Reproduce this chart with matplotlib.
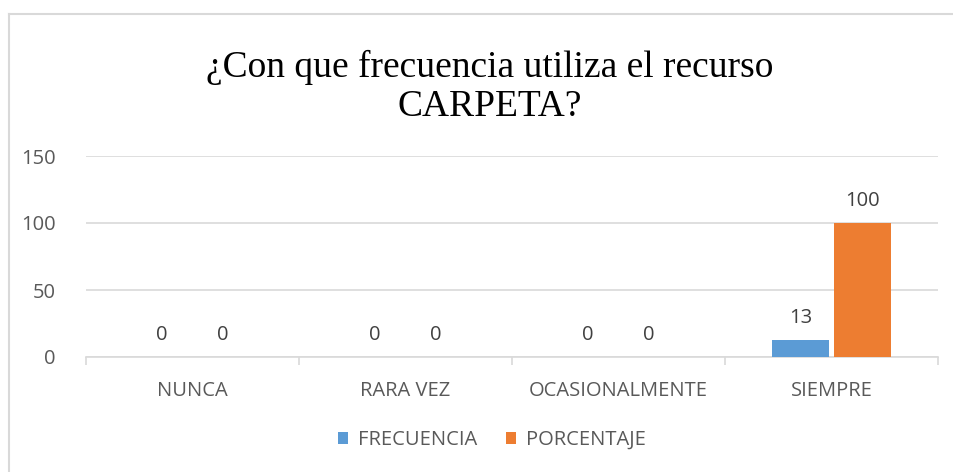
import matplotlib
matplotlib.use("Agg")
import matplotlib.pyplot as plt
import numpy as np

categories = ["NUNCA", "RARA VEZ", "OCASIONALMENTE", "SIEMPRE"]
frecuencia = [0, 0, 0, 13]
porcentaje = [0, 0, 0, 100]
series_names = ["FRECUENCIA", "PORCENTAJE"]
title = "¿Con que frecuencia utiliza el recurso\nCARPETA?"

BLUE = "#5B9BD5"
ORANGE = "#ED7D31"
GRID = "#D9D9D9"
TEXT = "#595959"
LABEL = "#404040"
FONT = "Open Sans"
FS = 14.5

W, H = 954, 472
fig = plt.figure(figsize=(W / 100, H / 100), dpi=100)
fig.patch.set_facecolor("white")

# chart frame (only top and left edges visible in the reference)
fig.add_artist(plt.Line2D([9 / W, 9 / W], [0, 1 - 14 / H], transform=fig.transFigure,
                          color="#D9D9D9", lw=1.5))
fig.add_artist(plt.Line2D([9 / W, 1], [1 - 14 / H, 1 - 14 / H], transform=fig.transFigure,
                          color="#D9D9D9", lw=1.5))

left, right = 86, 938
top, bottom = 156, 357
ax = fig.add_axes([left / W, 1 - bottom / H, (right - left) / W, (bottom - top) / H])

x = np.arange(len(categories))
bw = 0.267
gap = 0.01
b1 = ax.bar(x - bw / 2 - gap, frecuencia, bw, color=BLUE, label=series_names[0], zorder=3)
b2 = ax.bar(x + bw / 2 + gap, porcentaje, bw, color=ORANGE, label=series_names[1], zorder=3)

ax.set_xlim(-0.5, len(categories) - 0.5)
ax.set_ylim(0, 150)
ax.set_yticks([0, 50, 100, 150])
ax.yaxis.grid(True, color=GRID, lw=1.2, zorder=0)
for s in ["top", "right", "left"]:
    ax.spines[s].set_visible(False)
ax.spines["bottom"].set_color(GRID)
ax.spines["bottom"].set_linewidth(1.2)

ax.set_xticks(x)
ax.set_xticklabels(categories)
ax.set_xticks(np.arange(-0.5, len(categories)), minor=True)
ax.tick_params(axis="x", which="major", length=0, pad=17, labelsize=FS, labelcolor=TEXT)
ax.tick_params(axis="x", which="minor", length=6, color=GRID, width=1.2)
ax.tick_params(axis="y", length=0, pad=22, labelsize=FS, labelcolor=TEXT)
for lab in ax.get_xticklabels() + ax.get_yticklabels():
    lab.set_fontfamily(FONT)

for bars in (b1, b2):
    for rect in bars:
        h = rect.get_height()
        ax.annotate(f"{h:g}", (rect.get_x() + rect.get_width() / 2, h),
                    xytext=(0, 8.5), textcoords="offset points", ha="center", va="bottom",
                    fontsize=FS, color=LABEL, family=FONT)

fig.text(490 / W, 1 - 87 / H, title, ha="center", va="center", fontsize=27,
         family="Liberation Serif", color="black", linespacing=1.15)

leg = fig.legend(handles=[b1, b2], labels=series_names, loc="center",
                 bbox_to_anchor=(492 / W, 1 - 440 / H), ncol=2, frameon=False,
                 handlelength=0.5, handleheight=0.5, handletextpad=0.5, columnspacing=1.45,
                 prop={"family": FONT, "size": FS})
for t in leg.get_texts():
    t.set_color(TEXT)

fig.savefig("out.png", dpi=100)
